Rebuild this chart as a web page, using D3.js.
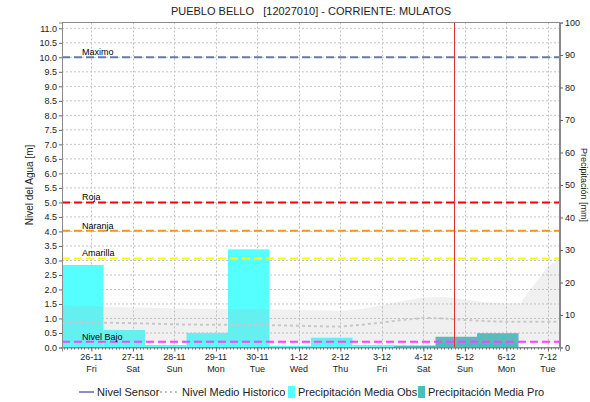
<!DOCTYPE html>
<html><head><meta charset="utf-8">
<script src="https://cdn.jsdelivr.net/npm/d3@7"></script>
<style>
body{margin:0;background:#fff;}
svg{display:block;font-family:"Liberation Sans",Arial,sans-serif;}
</style></head>
<body><svg id="c" width="590" height="402"></svg>
<script>
// ---- data ----
const title = "PUEBLO BELLO   [12027010] - CORRIENTE: MULATOS";
const dayTicks = ["2021-11-26","2021-11-27","2021-11-28","2021-11-29","2021-11-30","2021-12-01","2021-12-02","2021-12-03","2021-12-04","2021-12-05","2021-12-06","2021-12-07"];
const dayLabels = ["26-11","27-11","28-11","29-11","30-11","1-12","2-12","3-12","4-12","5-12","6-12","7-12"];
const weekdayLabels = ["Fri","Sat","Sun","Mon","Tue","Wed","Thu","Fri","Sat","Sun","Mon","Tue"];
const levelTicks = [0,0.5,1,1.5,2,2.5,3,3.5,4,4.5,5,5.5,6,6.5,7,7.5,8,8.5,9,9.5,10,10.5,11];
const precipTicks = [0,10,20,30,40,50,60,70,80,90,100];
// precipitation bars (start of 24h interval, 07:00 to 07:00)
const obsStarts = ["2021-11-25T07:00","2021-11-26T07:00","2021-11-27T07:00","2021-11-28T07:00","2021-11-29T07:00","2021-11-30T07:00","2021-12-01T07:00","2021-12-02T07:00"];
const obsValues = [25.4, 5.4, 0.8, 4.5, 30.2, 0.55, 3.0, 0.75];
const proStarts = ["2021-12-03T07:00","2021-12-04T07:00","2021-12-05T07:00"];
const proValues = [0.6, 3.3, 4.4];
// historic band (m)
const histTimes = ["2021-11-25T07:00","2021-11-26T00:00","2021-11-26T12:00","2021-11-27T00:00","2021-11-28T00:00","2021-11-29T00:00","2021-11-30T00:00","2021-12-01T00:00","2021-12-01T12:00","2021-12-02T00:00","2021-12-02T12:00","2021-12-03T00:00","2021-12-03T12:00","2021-12-04T00:00","2021-12-04T12:00","2021-12-05T00:00","2021-12-05T12:00","2021-12-06T00:00","2021-12-06T08:00","2021-12-06T12:00","2021-12-07T00:00","2021-12-07T07:00"];
const histMax = [1.45,1.43,1.40,1.38,1.35,1.33,1.32,1.30,1.28,1.27,1.33,1.45,1.60,1.72,1.74,1.65,1.56,1.52,1.52,1.85,2.79,3.08];
const histMin = [0.15,0.15,0.15,0.15,0.16,0.16,0.15,0.15,0.15,0.15,0.15,0.15,0.15,0.15,0.15,0.15,0.15,0.15,0.15,0.15,0.15,0.15];
const histMean = [0.87,0.86,0.85,0.84,0.80,0.78,0.78,0.75,0.73,0.72,0.78,0.86,0.95,1.02,1.00,0.95,0.91,0.89,0.89,0.89,0.89,0.89];
const thresholdNames = ["Maximo","Roja","Naranja","Amarilla","Nivel Bajo"];
const thresholdValues = [10.0, 5.0, 4.02, 3.07, 0.2];
const thresholdColors = ["#6b78a3","#ff0000","#ff9422","#ffff00","#ff40ff"];
const nowTime = "2021-12-04T17:30";

// ---- layout ----
const svg = d3.select("#c");
const L=62, R=560, T=22.5, B=347.5;
const parse = d3.timeParse("%Y-%m-%dT%H:%M");
const parseDay = d3.timeParse("%Y-%m-%d");
const x = d3.scaleTime().domain([parse("2021-11-25T07:00"), parse("2021-12-07T07:00")]).range([L,R]);
const yL = d3.scaleLinear().domain([0,11.2]).range([B,T]);
const yR = d3.scaleLinear().domain([0,100]).range([B,T]);

// gridlines
const g = svg.append("g");
g.selectAll("line.hg").data(levelTicks).join("line")
  .attr("x1",L).attr("x2",R).attr("y1",d=>yL(d)).attr("y2",d=>yL(d))
  .attr("stroke","#c4c4c4").attr("stroke-width",1).attr("stroke-dasharray","2,2");
g.selectAll("line.vg").data(dayTicks).join("line")
  .attr("x1",d=>Math.round(x(parseDay(d)))+0.5).attr("x2",d=>Math.round(x(parseDay(d)))+0.5).attr("y1",T).attr("y2",B)
  .attr("stroke","#c4c4c4").attr("stroke-width",1).attr("stroke-dasharray","2,2");

// bars
const day = 24*3600*1000;
svg.append("g").selectAll("rect").data(obsStarts.map((s,i)=>({t:parse(s),v:obsValues[i]}))).join("rect")
  .attr("x",d=>x(d.t)).attr("width",d=>x(new Date(+d.t+day))-x(d.t))
  .attr("y",d=>yR(d.v)).attr("height",d=>B-yR(d.v)).attr("fill","#55ffff");
svg.append("g").selectAll("rect").data(proStarts.map((s,i)=>({t:parse(s),v:proValues[i]}))).join("rect")
  .attr("x",d=>x(d.t)).attr("width",d=>x(new Date(+d.t+day))-x(d.t))
  .attr("y",d=>yR(d.v)).attr("height",d=>B-yR(d.v)).attr("fill","#47bfbf");

// historic band
const hist = histTimes.map((t,i)=>({t:parse(t),max:histMax[i],min:histMin[i],mean:histMean[i]}));
svg.append("path").datum(hist)
  .attr("d",d3.area().x(d=>x(d.t)).y0(d=>yL(d.min)).y1(d=>yL(d.max)))
  .attr("fill","rgba(170,170,170,0.18)");
svg.append("path").datum(hist)
  .attr("d",d3.line().x(d=>x(d.t)).y(d=>yL(d.mean)))
  .attr("fill","none").attr("stroke","#c8c8c8").attr("stroke-width",2).attr("stroke-dasharray","3,3");

// thresholds
thresholdValues.forEach((v,i)=>{
  svg.append("line").attr("x1",L).attr("x2",R).attr("y1",yL(v)).attr("y2",yL(v))
    .attr("stroke",thresholdColors[i]).attr("stroke-width",2).attr("stroke-dasharray","8,4");
  svg.append("text").attr("x",82).attr("y",yL(v)-2).attr("font-size",9).attr("fill","#000").text(thresholdNames[i]);
});

// now line
svg.append("line").attr("x1",Math.round(x(parse(nowTime)))+0.5).attr("x2",Math.round(x(parse(nowTime)))+0.5)
  .attr("y1",T).attr("y2",B).attr("stroke","#e03030").attr("stroke-width",1);

// frame
svg.append("rect").attr("x",L+0.5).attr("y",T).attr("width",R-L-1).attr("height",B-T)
  .attr("fill","none").attr("stroke","#8a8a8a").attr("stroke-width",1);

// left axis
const la = svg.append("g").attr("transform",`translate(${L},0)`)
  .call(d3.axisLeft(yL).tickValues(levelTicks).tickFormat(d3.format(".1f")).tickSize(3).tickPadding(2));
la.select(".domain").attr("stroke","#8a8a8a");
la.selectAll(".tick line").attr("stroke","#666");
la.selectAll("text").attr("font-size",9).attr("font-family","Liberation Sans, Arial, sans-serif").attr("fill","#222");

// right axis
const ra = svg.append("g").attr("transform",`translate(${R},0)`)
  .call(d3.axisRight(yR).tickValues(precipTicks).tickSize(3).tickPadding(2));
ra.select(".domain").attr("stroke","#8a8a8a");
ra.selectAll(".tick line").attr("stroke","#666");
ra.selectAll("text").attr("font-size",9).attr("font-family","Liberation Sans, Arial, sans-serif").attr("fill","#222");

// bottom axis: minor ticks + day ticks
const minor = d3.timeHour.every(2).range(x.domain()[0], x.domain()[1]);
svg.append("g").selectAll("line").data(minor).join("line")
  .attr("x1",d=>Math.round(x(d))+0.5).attr("x2",d=>Math.round(x(d))+0.5).attr("y1",B).attr("y2",B+2)
  .attr("stroke","#666").attr("stroke-width",1);
const ba = svg.append("g").attr("transform",`translate(0,${B})`)
  .call(d3.axisBottom(x).tickValues(dayTicks.map(parseDay)).tickSize(4).tickFormat(""));
ba.select(".domain").attr("stroke","#8a8a8a");
ba.selectAll(".tick line").attr("stroke","#666");
const xl = svg.append("g");
dayTicks.forEach((d,i)=>{
  const xx = x(parseDay(d));
  xl.append("text").attr("x",xx).attr("y",360).attr("text-anchor","middle").attr("font-size",9).attr("fill","#222").text(dayLabels[i]);
  xl.append("text").attr("x",xx).attr("y",372).attr("text-anchor","middle").attr("font-size",9).attr("fill","#222").text(weekdayLabels[i]);
});

// axis titles
svg.append("text").attr("transform","translate(33,185) rotate(-90)").attr("text-anchor","middle")
  .attr("font-size",10).attr("fill","#222").text("Nivel del Agua [m]");
svg.append("text").attr("transform","translate(581,185) rotate(90)").attr("text-anchor","middle")
  .attr("font-size",9).attr("fill","#222").text("Precipitación [mm]");

// title
svg.append("text").attr("x",311).attr("y",15).attr("text-anchor","middle").attr("font-size",11)
  .attr("fill","#222").style("white-space","pre").text(title);

// legend
const lg = svg.append("g").attr("font-size",11).attr("fill","#222");
lg.append("line").attr("x1",79).attr("x2",94).attr("y1",392).attr("y2",392).attr("stroke","#1a1a80").attr("stroke-width",1);
lg.append("text").attr("x",97).attr("y",396).text("Nivel Sensor");
lg.append("line").attr("x1",160).attr("x2",178).attr("y1",392).attr("y2",392).attr("stroke","#c0c0c0").attr("stroke-width",2).attr("stroke-dasharray","2,3");
lg.append("text").attr("x",182).attr("y",396).text("Nivel Medio Historico");
lg.append("rect").attr("x",288).attr("y",386).attr("width",7).attr("height",12).attr("fill","#55ffff");
lg.append("text").attr("x",298).attr("y",396).text("Precipitación Media Obs");
lg.append("rect").attr("x",418).attr("y",386).attr("width",7).attr("height",12).attr("fill","#47bfbf");
lg.append("text").attr("x",428).attr("y",396).text("Precipitación Media Pro");
</script></body></html>
